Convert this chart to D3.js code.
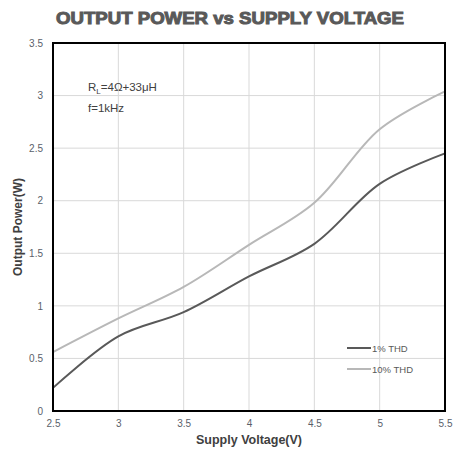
<!DOCTYPE html>
<html>
<head>
<meta charset="utf-8">
<script src="https://cdn.jsdelivr.net/npm/d3@7"></script>
<style>
  body { margin: 0; background: #fff; }
  svg text { font-family: "Liberation Sans", Arial, sans-serif; }
</style>
</head>
<body>
<div id="chart"></div>
<script>
// data
const voltage = [2.5, 3, 3.5, 4, 4.5, 5, 5.5];
const thd1 = [0.22, 0.71, 0.94, 1.28, 1.59, 2.16, 2.45];
const thd10 = [0.56, 0.88, 1.18, 1.58, 1.98, 2.68, 3.04];
const seriesNames = ["1% THD", "10% THD"];
const xTicks = [2.5, 3, 3.5, 4, 4.5, 5, 5.5];
const yTicks = [0, 0.5, 1, 1.5, 2, 2.5, 3, 3.5];

let margin = {top: 43, right: 10, bottom: 44, left: 53};
let width = 455 - margin.left - margin.right,
    height = 455 - margin.top - margin.bottom;

const svg = d3.select("#chart")
  .append("svg")
    .attr("width", 455)
    .attr("height", 455);

const g = svg.append("g")
    .attr("transform", "translate(" + margin.left + "," + margin.top + ")");

// scales
let x = d3.scaleLinear().domain([2.5, 5.5]).range([0, width]);
let y = d3.scaleLinear().domain([0, 3.5]).range([height, 0]);

// grid
g.append("g")
  .selectAll("line.vg")
  .data(xTicks)
  .enter().append("line")
    .attr("x1", d => x(d)).attr("x2", d => x(d))
    .attr("y1", 0).attr("y2", height)
    .attr("stroke", "#d9d9d9").attr("stroke-width", 1);

g.append("g")
  .selectAll("line.hg")
  .data(yTicks)
  .enter().append("line")
    .attr("x1", 0).attr("x2", width)
    .attr("y1", d => y(d)).attr("y2", d => y(d))
    .attr("stroke", "#d9d9d9").attr("stroke-width", 1);

// axes
const xAxis = g.append("g")
  .attr("transform", "translate(0," + height + ")")
  .call(d3.axisBottom(x).tickValues(xTicks).tickSize(0).tickPadding(9).tickFormat(d3.format("")));
xAxis.select(".domain").remove();
xAxis.selectAll("text").attr("fill", "#5a5f6a").style("font-size", "10px");

const yAxis = g.append("g")
  .call(d3.axisLeft(y).tickValues(yTicks).tickSize(0).tickPadding(10).tickFormat(d3.format("")));
yAxis.select(".domain").remove();
yAxis.selectAll("text").attr("fill", "#5a5f6a").style("font-size", "10px");

// lines
const line = d3.line()
  .x((d, i) => x(voltage[i]))
  .y(d => y(d))
  .curve(d3.curveCatmullRom.alpha(0.5));

const colors = ["#595959", "#b8b8b8"];
[thd1, thd10].forEach(function(s, k) {
  g.append("path")
    .datum(s)
    .attr("fill", "none")
    .attr("stroke", colors[k])
    .attr("stroke-width", 2)
    .attr("d", line);
});

// plot frame
g.append("rect")
  .attr("x", 0).attr("y", 0)
  .attr("width", width).attr("height", height)
  .attr("fill", "none")
  .attr("stroke", "#000")
  .attr("stroke-width", 2);

// title
svg.append("text")
  .attr("x", 230).attr("y", 24)
  .attr("text-anchor", "middle")
  .attr("fill", "#595959")
  .attr("stroke", "#595959")
  .attr("stroke-width", 1)
  .style("font-size", "17px")
  .style("font-weight", "bold")
  .attr("textLength", 348)
  .attr("lengthAdjust", "spacingAndGlyphs")
  .text("OUTPUT POWER vs SUPPLY VOLTAGE");

// axis titles
svg.append("text")
  .attr("x", margin.left + width / 2).attr("y", 444)
  .attr("text-anchor", "middle")
  .attr("fill", "#404040")
  .style("font-size", "12.5px")
  .style("font-weight", "bold")
  .text("Supply Voltage(V)");

svg.append("text")
  .attr("transform", "translate(22," + (margin.top + height / 2) + ")rotate(-90)")
  .attr("text-anchor", "middle")
  .attr("fill", "#404040")
  .style("font-size", "12px")
  .style("font-weight", "bold")
  .text("Output Power(W)");

// annotation
const note = svg.append("text")
  .attr("x", 88).attr("y", 91)
  .attr("fill", "#404040")
  .style("font-size", "11.5px");
note.append("tspan").text("R");
note.append("tspan").attr("dy", 3).style("font-size", "8px").text("L");
note.append("tspan").attr("dy", -3).text("=4Ω+33μH");

svg.append("text")
  .attr("x", 88).attr("y", 112)
  .attr("fill", "#404040")
  .style("font-size", "11.5px")
  .text("f=1kHz");

// legend
const legend = svg.append("g")
  .selectAll("g")
  .data(seriesNames)
  .enter().append("g")
    .attr("transform", (d, i) => "translate(347," + (348 + i * 21) + ")");

legend.append("line")
  .attr("x1", 0).attr("x2", 24)
  .attr("stroke", (d, i) => colors[i])
  .attr("stroke-width", 2);

legend.append("text")
  .attr("x", 25).attr("y", 3.5)
  .attr("fill", "#595959")
  .style("font-size", "9.5px")
  .text(d => d);
</script>
</body>
</html>
